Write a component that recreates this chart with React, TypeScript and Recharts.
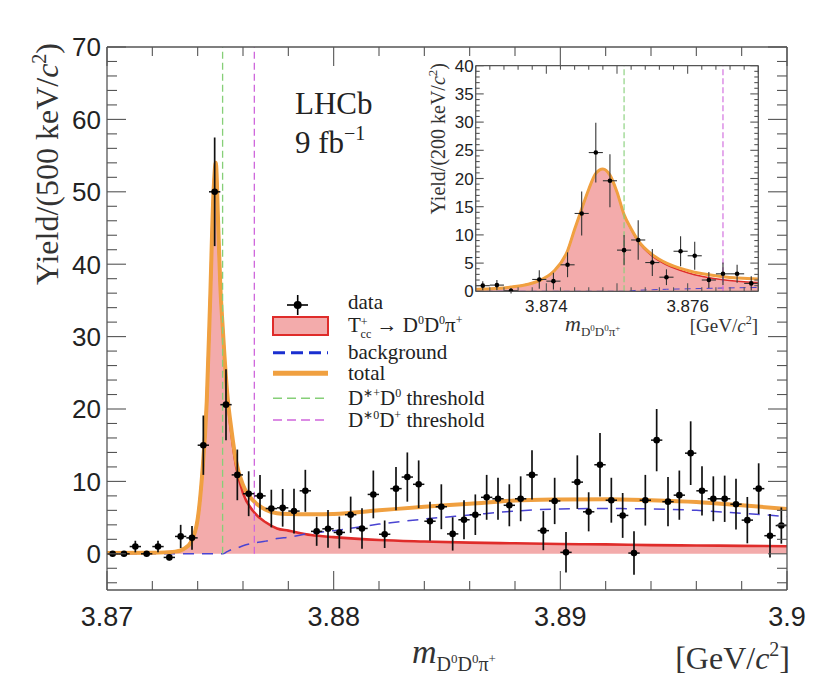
import React from "react";
import {
  ComposedChart,
  XAxis,
  YAxis,
  Area,
  Line,
  Scatter,
  ErrorBar,
  ReferenceLine,
} from "recharts";

const SERIF = '"Liberation Serif", "Times New Roman", serif';
const SANS = '"Liberation Sans", Arial, sans-serif';

// ---------------- main plot data (500 keV bins) ----------------
const MAIN_BIN_CENTERS = [
  3.87025, 3.87075, 3.87125, 3.87175, 3.87225, 3.87275, 3.87325, 3.87375, 3.87425, 3.87475,
  3.87525, 3.87575, 3.87625, 3.87675, 3.87725, 3.87775, 3.87825, 3.87875, 3.87925, 3.87975,
  3.88025, 3.88075, 3.88125, 3.88175, 3.88225, 3.88275, 3.88325, 3.88375, 3.88425, 3.88475,
  3.88525, 3.88575, 3.88625, 3.88675, 3.88725, 3.88775, 3.88825, 3.88875, 3.88925, 3.88975,
  3.89025, 3.89075, 3.89125, 3.89175, 3.89225, 3.89275, 3.89325, 3.89375, 3.89425, 3.89475,
  3.89525, 3.89575, 3.89625, 3.89675, 3.89725, 3.89775, 3.89825, 3.89875, 3.89925, 3.89975,
];
const MAIN_YIELD = [
  0, 0, 1.0, 0, 1.0, -0.5, 2.4, 2.2, 15.0, 50.0,
  20.6, 10.9, 8.3, 8.0, 6.25, 6.35, 5.9, 8.7, 3.1, 3.45,
  2.95, 5.4, 3.5, 8.2, 2.7, 9.0, 10.6, 9.6, 4.5, 6.5,
  2.75, 4.7, 5.4, 7.8, 7.6, 6.7, 7.6, 10.9, 3.2, 7.3,
  0.2, 9.9, 5.8, 12.3, 7.4, 5.3, 0.1, 7.4, 15.7, 7.2,
  8.1, 13.9, 8.7, 7.6, 7.6, 6.85, 4.65, 9.0, 2.5, 3.9,
];
const MAIN_ERR = [
  0.2, 0.2, 0.8, 0.2, 0.8, 0.4, 1.6, 1.65, 4.1, 7.5,
  4.9, 3.5, 3.1, 2.9, 2.6, 2.6, 3.1, 2.9, 2.0, 2.6,
  2.2, 2.5, 2.8, 3.3, 1.9, 3.0, 3.4, 3.3, 2.7, 3.1,
  2.3, 2.7, 2.8, 3.1, 2.9, 2.9, 3.1, 3.4, 2.7, 3.2,
  2.8, 3.7, 2.7, 4.4, 3.1, 3.1, 3.0, 3.5, 4.3, 3.4,
  3.4, 4.4, 3.4, 3.1, 3.2, 3.5, 3.2, 3.5, 3.0, 2.5,
];
const MAIN_BIN_HALF = 0.00025;

const MAIN_CURVE_X = [
  3.87, 3.872, 3.873, 3.8734, 3.8737, 3.874, 3.8742, 3.8744, 3.87455, 3.8747,
  3.8748, 3.8749, 3.875, 3.8751, 3.8753, 3.8755, 3.8757, 3.876, 3.8765, 3.877,
  3.8775, 3.878, 3.879, 3.88, 3.882, 3.884, 3.886, 3.888, 3.89, 3.892,
  3.894, 3.896, 3.898, 3.9,
];
const MAIN_TOTAL = [
  0.1, 0.15, 0.3, 0.7, 1.6, 4.8, 11, 21, 35, 50,
  54, 46, 37, 31.5, 22.3, 16.9, 12.7, 9.5, 7.2, 6.1,
  5.6, 5.5, 5.45, 5.5, 6.0, 6.5, 6.9, 7.35, 7.5, 7.55,
  7.4, 7.15, 6.7, 6.2,
];
const MAIN_SIGNAL = [
  0.1, 0.15, 0.3, 0.7, 1.6, 4.8, 11, 21, 35, 50,
  54, 46, 37, 31.5, 22.0, 16.3, 12.0, 8.4, 5.7, 4.35,
  3.5, 3.2, 2.6, 2.3, 1.9, 1.7, 1.55, 1.45, 1.35, 1.3,
  1.2, 1.15, 1.1, 1.05,
];
const MAIN_BKG = [
  0, 0, 0, 0, 0, 0, 0, 0, 0, 0,
  0, 0, 0, 0, 0.3, 0.6, 0.75, 1.1, 1.5, 1.75,
  2.1, 2.3, 2.85, 3.2, 4.1, 4.8, 5.35, 5.9, 6.2, 6.25,
  6.2, 6.0, 5.6, 5.15,
];

// ---------------- inset data (200 keV bins) ----------------
const INSET_BIN_CENTERS = [
  3.8731, 3.8733, 3.8735, 3.8737, 3.8739, 3.8741, 3.8743, 3.8745, 3.8747, 3.8749,
  3.8751, 3.8753, 3.8755, 3.8757, 3.8759, 3.8761, 3.8763, 3.8765, 3.8767, 3.8769,
];
const INSET_YIELD: (number | null)[] = [
  1.0, 1.1, 0.1, null, 2.1, 1.8, 4.7, 13.8, 24.6, 19.6,
  7.3, 9.1, 5.1, 2.5, 7.1, 6.3, 2.0, 3.1, 3.1, 1.4,
];
const INSET_ERR = [
  0.8, 0.9, 0.5, 0.5, 1.65, 1.5, 2.2, 3.9, 5.3, 4.7,
  2.7, 3.5, 2.4, 1.4, 2.65, 2.5, 1.4, 2.0, 1.6, 1.25,
];
const INSET_BIN_HALF = 0.0001;

const INSET_CURVE_X = [
  3.873, 3.8735, 3.8739, 3.8741, 3.8743, 3.8744, 3.8745, 3.8746, 3.8747, 3.8748,
  3.8749, 3.875, 3.8751, 3.8752, 3.8753, 3.8755, 3.8757, 3.876, 3.8765, 3.877,
];
const INSET_TOTAL = [
  0.35, 0.75, 1.9, 3.5, 7.2, 11.0, 14.6, 18.1, 20.9, 21.7,
  20.6, 17.6, 13.6, 11.1, 9.0, 6.5, 5.0, 3.7, 2.6, 2.2,
];
const INSET_SIGNAL = [
  0.35, 0.75, 1.9, 3.5, 7.2, 11.0, 14.6, 18.1, 20.9, 21.7,
  20.6, 17.6, 13.6, 11.0, 8.8, 6.25, 4.7, 3.3, 2.05, 1.55,
];
const INSET_BKG = [
  0, 0, 0, 0, 0, 0, 0, 0, 0, 0,
  0, 0, 0, 0.1, 0.18, 0.28, 0.36, 0.44, 0.58, 0.68,
];

// thresholds (GeV)
const THRESH_DSTP_D0 = 3.8751;
const THRESH_DST0_DP = 3.8765;

// ticks
const MAIN_X_TICKS = [3.87, 3.872, 3.874, 3.876, 3.878, 3.88, 3.882, 3.884, 3.886, 3.888, 3.89, 3.892, 3.894, 3.896, 3.898, 3.9];
const MAIN_X_LABELS = [3.87, 3.88, 3.89, 3.9];
const MAIN_Y_TICKS = [-4, -2, 0, 2, 4, 6, 8, 10, 12, 14, 16, 18, 20, 22, 24, 26, 28, 30, 32, 34, 36, 38, 40, 42, 44, 46, 48, 50, 52, 54, 56, 58, 60, 62, 64, 66, 68, 70];
const MAIN_Y_LABELS = [0, 10, 20, 30, 40, 50, 60, 70];
const INSET_X_TICKS = [3.873, 3.8732, 3.8734, 3.8736, 3.8738, 3.874, 3.8742, 3.8744, 3.8746, 3.8748, 3.875, 3.8752, 3.8754, 3.8756, 3.8758, 3.876, 3.8762, 3.8764, 3.8766, 3.8768, 3.877];
const INSET_X_LABELS = [3.874, 3.876];
const INSET_Y_TICKS = [0, 1, 2, 3, 4, 5, 6, 7, 8, 9, 10, 11, 12, 13, 14, 15, 16, 17, 18, 19, 20, 21, 22, 23, 24, 25, 26, 27, 28, 29, 30, 31, 32, 33, 34, 35, 36, 37, 38, 39, 40];
const INSET_Y_LABELS = [0, 5, 10, 15, 20, 25, 30, 35, 40];

// colours
const PINK = "#f3abab";
const RED = "#df2c2a";
const ORANGE = "#f0a040";
const BLUE = "#4a44d2";
const GREEN = "#86cf78";
const MAGENTA = "#cf66dc";
const AXIS = "#555";

const mainPoints = MAIN_BIN_CENTERS.map((x, i) => ({ x, y: MAIN_YIELD[i], ey: MAIN_ERR[i], ex: MAIN_BIN_HALF }));
const mainTotal = MAIN_CURVE_X.map((x, i) => ({ x, y: MAIN_TOTAL[i] }));
const mainSignal = MAIN_CURVE_X.map((x, i) => ({ x, y: MAIN_SIGNAL[i] }));
const mainBkg = MAIN_CURVE_X.map((x, i) => ({ x, y: MAIN_BKG[i] }));

const insetPoints = INSET_BIN_CENTERS.map((x, i) => ({ x, y: INSET_YIELD[i], ey: INSET_ERR[i], ex: INSET_BIN_HALF })).filter(
  (p) => p.y !== null
);
const insetTotal = INSET_CURVE_X.map((x, i) => ({ x, y: INSET_TOTAL[i] }));
const insetSignal = INSET_CURVE_X.map((x, i) => ({ x, y: INSET_SIGNAL[i] }));
const insetBkg = INSET_CURVE_X.map((x, i) => ({ x, y: INSET_BKG[i] }));

type TickOpts = {
  side: "bottom" | "top" | "left" | "right";
  major: number;
  majorLen: number;
  minorLen: number;
  labels?: number[];
  fontSize?: number;
  offset?: number;
};

function makeTick(o: TickOpts) {
  return (props: any) => {
    const { x, y, payload } = props;
    const v = payload.value as number;
    const r = v / o.major;
    const isMajor = Math.abs(r - Math.round(r)) < 1e-6;
    const len = isMajor ? o.majorLen : o.minorLen;
    let x2 = x;
    let y2 = y;
    if (o.side === "bottom") y2 = y - len;
    else if (o.side === "top") y2 = y + len;
    else if (o.side === "left") x2 = x + len;
    else x2 = x - len;
    const show = o.labels && o.labels.some((l) => Math.abs(l - v) < 1e-9);
    return (
      <g>
        <line x1={x} y1={y} x2={x2} y2={y2} stroke={AXIS} strokeWidth={1.1} />
        {show && o.side === "bottom" && (
          <text x={x} y={y + (o.offset || 0)} textAnchor="middle" fontFamily={SANS} fontSize={o.fontSize} fill="#222">
            {String(v)}
          </text>
        )}
        {show && o.side === "left" && (
          <text x={x - (o.offset || 0)} y={y} dy="0.36em" textAnchor="end" fontFamily={SANS} fontSize={o.fontSize} fill="#222">
            {String(v)}
          </text>
        )}
      </g>
    );
  };
}

const axisLine = { stroke: AXIS, strokeWidth: 1.3 };

const DataDot = (r: number) => (p: any) => <circle cx={p.cx} cy={p.cy} r={r} fill="#000" />;

function MainChart() {
  return (
    <ComposedChart width={820} height={686} margin={{ top: 38, right: 40, bottom: 24, left: 19 }}>
      <XAxis
        type="number"
        dataKey="x"
        domain={[3.87, 3.9]}
        allowDataOverflow
        ticks={MAIN_X_TICKS}
        interval={0}
        height={80}
        tickSize={0}
        tickMargin={0}
        tickLine={false}
        axisLine={axisLine}
        tick={makeTick({ side: "bottom", major: 0.01, majorLen: 19, minorLen: 9, labels: MAIN_X_LABELS, fontSize: 27, offset: 36 })}
      />
      <XAxis
        xAxisId="top"
        orientation="top"
        type="number"
        dataKey="x"
        domain={[3.87, 3.9]}
        allowDataOverflow
        ticks={MAIN_X_TICKS}
        interval={0}
        height={1}
        tickSize={0}
        tickMargin={0}
        tickLine={false}
        axisLine={axisLine}
        tick={makeTick({ side: "top", major: 0.01, majorLen: 19, minorLen: 9 })}
      />
      <YAxis
        type="number"
        domain={[-5, 70]}
        allowDataOverflow
        ticks={MAIN_Y_TICKS}
        interval={0}
        width={80}
        tickSize={0}
        tickMargin={0}
        tickLine={false}
        axisLine={axisLine}
        tick={makeTick({ side: "left", major: 10, majorLen: 19, minorLen: 10, labels: MAIN_Y_LABELS, fontSize: 26, offset: 6 })}
      />
      <YAxis
        yAxisId="right"
        orientation="right"
        type="number"
        domain={[-5, 70]}
        allowDataOverflow
        ticks={MAIN_Y_TICKS}
        interval={0}
        width={1}
        tickSize={0}
        tickMargin={0}
        tickLine={false}
        axisLine={axisLine}
        tick={makeTick({ side: "right", major: 10, majorLen: 19, minorLen: 10 })}
      />
      <Area
        data={mainSignal}
        dataKey="y"
        type="monotone"
        baseValue={0}
        fill={PINK}
        fillOpacity={1}
        stroke={RED}
        strokeWidth={2.6}
        dot={false}
        activeDot={false}
        isAnimationActive={false}
      />
      <Line
        data={mainBkg}
        dataKey="y"
        type="monotone"
        stroke={BLUE}
        strokeWidth={1.5}
        strokeDasharray="11 8"
        dot={false}
        activeDot={false}
        isAnimationActive={false}
      />
      <Line
        data={mainTotal}
        dataKey="y"
        type="monotone"
        stroke={ORANGE}
        strokeWidth={4}
        dot={false}
        activeDot={false}
        isAnimationActive={false}
      />
      <ReferenceLine
        segment={[{ x: THRESH_DSTP_D0, y: 0 }, { x: THRESH_DSTP_D0, y: 70 }]}
        stroke={GREEN}
        strokeWidth={1.3}
        strokeDasharray="7 4"
      />
      <ReferenceLine
        segment={[{ x: THRESH_DST0_DP, y: 0 }, { x: THRESH_DST0_DP, y: 70 }]}
        stroke={MAGENTA}
        strokeWidth={1.3}
        strokeDasharray="7 4"
      />
      <Scatter data={mainPoints} dataKey="y" shape={DataDot(3.3)} isAnimationActive={false}>
        <ErrorBar dataKey="ey" direction="y" width={0} stroke="#111" strokeWidth={1.7} isAnimationActive={false} />
        <ErrorBar dataKey="ex" direction="x" width={0} stroke="#111" strokeWidth={1.5} isAnimationActive={false} />
      </Scatter>
    </ComposedChart>
  );
}

function InsetChart() {
  return (
    <ComposedChart width={360} height={290} margin={{ top: 6.7, right: 8.7, bottom: 26.7, left: 17.7 }}>
      <XAxis
        type="number"
        dataKey="x"
        domain={[3.873, 3.877]}
        allowDataOverflow
        ticks={INSET_X_TICKS}
        interval={0}
        height={30}
        tickSize={0}
        tickMargin={0}
        tickLine={false}
        axisLine={axisLine}
        tick={makeTick({ side: "bottom", major: 0.001, majorLen: 8, minorLen: 4, labels: INSET_X_LABELS, fontSize: 17, offset: 21 })}
      />
      <XAxis
        xAxisId="top"
        orientation="top"
        type="number"
        dataKey="x"
        domain={[3.873, 3.877]}
        allowDataOverflow
        ticks={INSET_X_TICKS}
        interval={0}
        height={1}
        tickSize={0}
        tickMargin={0}
        tickLine={false}
        axisLine={axisLine}
        tick={makeTick({ side: "top", major: 0.001, majorLen: 8, minorLen: 4 })}
      />
      <YAxis
        type="number"
        domain={[0, 40]}
        allowDataOverflow
        ticks={INSET_Y_TICKS}
        interval={0}
        width={50}
        tickSize={0}
        tickMargin={0}
        tickLine={false}
        axisLine={axisLine}
        tick={makeTick({ side: "left", major: 5, majorLen: 8, minorLen: 4, labels: INSET_Y_LABELS, fontSize: 17, offset: 2 })}
      />
      <YAxis
        yAxisId="right"
        orientation="right"
        type="number"
        domain={[0, 40]}
        allowDataOverflow
        ticks={INSET_Y_TICKS}
        interval={0}
        width={1}
        tickSize={0}
        tickMargin={0}
        tickLine={false}
        axisLine={axisLine}
        tick={makeTick({ side: "right", major: 5, majorLen: 8, minorLen: 4 })}
      />
      <Area
        data={insetSignal}
        dataKey="y"
        type="monotone"
        baseValue={0}
        fill={PINK}
        fillOpacity={1}
        stroke={RED}
        strokeWidth={1.6}
        dot={false}
        activeDot={false}
        isAnimationActive={false}
      />
      <Line
        data={insetBkg}
        dataKey="y"
        type="monotone"
        stroke={BLUE}
        strokeWidth={1}
        strokeDasharray="6 5"
        dot={false}
        activeDot={false}
        isAnimationActive={false}
      />
      <Line
        data={insetTotal}
        dataKey="y"
        type="monotone"
        stroke={ORANGE}
        strokeWidth={3}
        dot={false}
        activeDot={false}
        isAnimationActive={false}
      />
      <ReferenceLine
        segment={[{ x: THRESH_DSTP_D0, y: 0 }, { x: THRESH_DSTP_D0, y: 40 }]}
        stroke={GREEN}
        strokeWidth={1.1}
        strokeDasharray="6 3"
      />
      <ReferenceLine
        segment={[{ x: THRESH_DST0_DP, y: 0 }, { x: THRESH_DST0_DP, y: 40 }]}
        stroke={MAGENTA}
        strokeWidth={1.1}
        strokeDasharray="6 3"
      />
      <Scatter data={insetPoints} dataKey="y" shape={DataDot(2.3)} isAnimationActive={false}>
        <ErrorBar dataKey="ey" direction="y" width={0} stroke="#333" strokeWidth={1.1} isAnimationActive={false} />
        <ErrorBar dataKey="ex" direction="x" width={0} stroke="#333" strokeWidth={1.1} isAnimationActive={false} />
      </Scatter>
    </ComposedChart>
  );
}

function Overlay() {
  const legX = 265;
  const legX2 = 320;
  const txt = 340;
  const LF = 21;
  const SF = 12;
  return (
    <svg width={820} height={686} style={{ position: "absolute", left: 0, top: 0, pointerEvents: "none" }}>
      {/* main y title */}
      <text transform="rotate(-90)" x={-35} y={50} textAnchor="end" fontFamily={SERIF} fontSize={32} fill="#333">
        Yield/(500 keV/<tspan fontStyle="italic">c</tspan>
        <tspan dy={-12} fontSize={20}>2</tspan>
        <tspan dy={12}>)</tspan>
      </text>
      {/* main x title */}
      <text x={404} y={655} fontFamily={SERIF} fill="#333">
        <tspan fontSize={34} fontStyle="italic">m</tspan>
        <tspan fontSize={20} dy={8}>D</tspan>
        <tspan fontSize={13} dy={-8}>0</tspan>
        <tspan fontSize={20} dy={8}>D</tspan>
        <tspan fontSize={13} dy={-8}>0</tspan>
        <tspan fontSize={20} dy={8}>π</tspan>
        <tspan fontSize={13} dy={-8}>+</tspan>
      </text>
      <text x={782} y={661} textAnchor="end" fontFamily={SERIF} fontSize={32} fill="#333">
        [GeV/<tspan fontStyle="italic">c</tspan>
        <tspan dy={-13} fontSize={20}>2</tspan>
        <tspan dy={13}>]</tspan>
      </text>
      {/* LHCb label */}
      <text x={287} y={106} fontFamily={SERIF} fontSize={31} fill="#222">LHCb</text>
      <text x={287} y={145} fontFamily={SERIF} fontSize={31} fill="#222">
        9 fb<tspan dy={-13} fontSize={20}>−1</tspan>
      </text>

      {/* legend */}
      <g>
        <line x1={289.7} y1={287} x2={289.7} y2={307} stroke="#000" strokeWidth={1.6} />
        <line x1={279} y1={297} x2={300} y2={297} stroke="#000" strokeWidth={1.6} />
        <circle cx={289.7} cy={297} r={4} fill="#000" />
        <text x={txt} y={301} fontFamily={SERIF} fontSize={LF} fill="#222">data</text>

        <rect x={legX} y={309} width={legX2 - legX} height={18} fill={PINK} stroke={RED} strokeWidth={2} />
        <text x={txt} y={324} fontFamily={SERIF} fontSize={LF} fill="#222">
          T<tspan fontSize={SF} dy={-6}>+</tspan>
          <tspan fontSize={SF} dx={-7} dy={12}>cc</tspan>
          <tspan fontSize={LF} dy={-6}> → D</tspan>
          <tspan fontSize={SF} dy={-8}>0</tspan>
          <tspan fontSize={LF} dy={8}>D</tspan>
          <tspan fontSize={SF} dy={-8}>0</tspan>
          <tspan fontSize={LF} dy={8}>π</tspan>
          <tspan fontSize={SF} dy={-8}>+</tspan>
        </text>

        <line x1={legX} y1={344.7} x2={legX2} y2={344.7} stroke="#1a2fd0" strokeWidth={3} strokeDasharray="12 6" />
        <text x={txt} y={351} fontFamily={SERIF} fontSize={LF} fill="#222">background</text>

        <line x1={legX} y1={365.3} x2={legX2} y2={365.3} stroke={ORANGE} strokeWidth={5} />
        <text x={txt} y={372} fontFamily={SERIF} fontSize={LF} fill="#222">total</text>

        <line x1={legX} y1={390.3} x2={legX2} y2={390.3} stroke={GREEN} strokeWidth={1.6} strokeDasharray="9 5" />
        <text x={txt} y={397} fontFamily={SERIF} fontSize={LF} fill="#222">
          D<tspan fontSize={SF} dy={-8}>∗+</tspan>
          <tspan fontSize={LF} dy={8}>D</tspan>
          <tspan fontSize={SF} dy={-8}>0</tspan>
          <tspan fontSize={LF} dy={8}> threshold</tspan>
        </text>

        <line x1={legX} y1={412} x2={legX2} y2={412} stroke={MAGENTA} strokeWidth={1.6} strokeDasharray="9 5" />
        <text x={txt} y={418.6} fontFamily={SERIF} fontSize={LF} fill="#222">
          D<tspan fontSize={SF} dy={-8}>∗0</tspan>
          <tspan fontSize={LF} dy={8}>D</tspan>
          <tspan fontSize={SF} dy={-8}>+</tspan>
          <tspan fontSize={LF} dy={8}> threshold</tspan>
        </text>
      </g>

      {/* inset titles */}
      <text transform="rotate(-90)" x={-55} y={437} textAnchor="end" fontFamily={SERIF} fontSize={20} fill="#333">
        Yield/(200 keV/<tspan fontStyle="italic">c</tspan>
        <tspan dy={-8} fontSize={13}>2</tspan>
        <tspan dy={8}>)</tspan>
      </text>
      <text x={557} y={323} fontFamily={SERIF} fill="#333">
        <tspan fontSize={22} fontStyle="italic">m</tspan>
        <tspan fontSize={13} dy={5}>D</tspan>
        <tspan fontSize={9} dy={-5}>0</tspan>
        <tspan fontSize={13} dy={5}>D</tspan>
        <tspan fontSize={9} dy={-5}>0</tspan>
        <tspan fontSize={13} dy={5}>π</tspan>
        <tspan fontSize={9} dy={-5}>+</tspan>
      </text>
      <text x={750} y={324} textAnchor="end" fontFamily={SERIF} fontSize={19} fill="#333">
        [GeV/<tspan fontStyle="italic">c</tspan>
        <tspan dy={-8} fontSize={12}>2</tspan>
        <tspan dy={8}>]</tspan>
      </text>
    </svg>
  );
}

export default function App() {
  return (
    <div style={{ position: "relative", width: 820, height: 686, background: "#fff", fontFamily: SERIF }}>
      <div style={{ position: "absolute", left: 0, top: 0 }}>
        <MainChart />
      </div>
      <div style={{ position: "absolute", left: 400, top: 50 }}>
        <InsetChart />
      </div>
      <Overlay />
    </div>
  );
}
